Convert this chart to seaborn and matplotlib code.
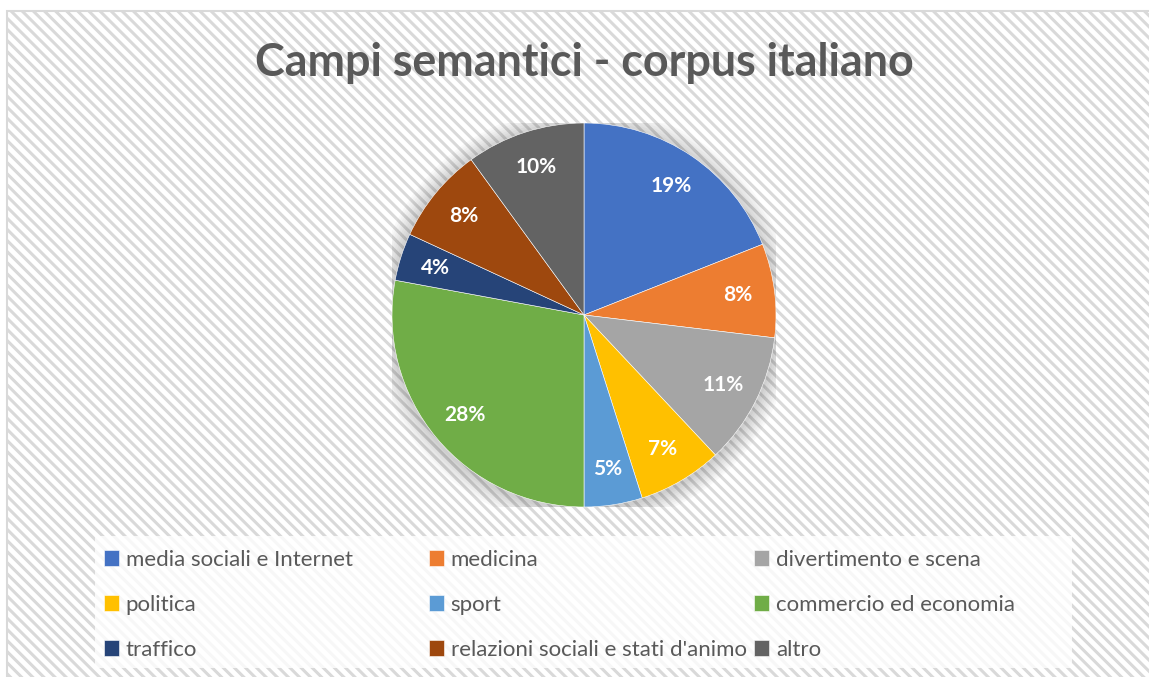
import matplotlib
matplotlib.use("Agg")
import matplotlib.pyplot as plt
import matplotlib.patches as mpatches
import seaborn as sns

sns.set_theme(style="white")
plt.rcParams['font.family'] = ['Lato', 'DejaVu Sans']
plt.rcParams['hatch.linewidth'] = 2.2
plt.rcParams['hatch.color'] = '#f7f7f7'

categories = ["media sociali e Internet", "medicina", "divertimento e scena",
              "politica", "sport", "commercio ed economia",
              "traffico", "relazioni sociali e stati d'animo", "altro"]
shares = [19.0, 7.9, 11.1, 7.1, 4.9, 27.9, 4.0, 8.1, 10.0]
colors = ["#4472C4", "#ED7D31", "#A5A5A5", "#FFC000", "#5B9BD5",
          "#70AD47", "#264478", "#9E480E", "#636363"]
title = "Campi semantici - corpus italiano"

W, H = 1149, 677
fig = plt.figure(figsize=(W / 100, H / 100), dpi=100)
fig.patch.set_facecolor("white")

# background frame with diagonal hatch
bg = fig.add_axes([0, 0, 1, 1])
bg.set_xlim(0, W)
bg.set_ylim(H, 0)
bg.axis("off")
bg.add_patch(mpatches.Rectangle((7, 11), W + 20, H + 20, facecolor="white",
                                edgecolor="#d9d9d9", lw=1.5, hatch="\\" * 3))
bg.add_patch(mpatches.Rectangle((95, 536), 977, 132, facecolor="white",
                                edgecolor="none", alpha=0.8))
bg.text(584, 63, title, ha="center", va="center", fontsize=32.3,
        fontweight="bold", color="#595959")

# pie
ax = fig.add_axes([392 / W, 170 / H, 384 / W, 384 / H])
for i in range(8):
    ax.add_patch(mpatches.Circle((0, -0.01), 1.0 + 0.012 * (i + 1),
                                 color="black", alpha=0.022, lw=0, zorder=0))
wedges, texts, autotexts = ax.pie(
    shares, colors=colors, startangle=90, counterclock=False,
    autopct="%1.0f%%", pctdistance=0.81,
    wedgeprops=dict(edgecolor="white", linewidth=0.4),
    textprops=dict(color="white", fontsize=15, fontweight="bold"))
ax.set_xlim(-1, 1)
ax.set_ylim(-1, 1)
ax.set_aspect("equal")
ax.axis("off")

# legend: three columns
col_x = [88 / W, 413 / W, 738 / W]
for c in range(3):
    idx = [r * 3 + c for r in range(3)]
    fig.legend([wedges[i] for i in idx], [categories[i] for i in idx],
               loc="upper left", bbox_to_anchor=(col_x[c], 1 - 534 / H),
               frameon=False, fontsize=16, labelcolor="#595959",
               handlelength=0.7, handleheight=0.7, handletextpad=0.3,
               labelspacing=1.13, borderpad=0.2)

fig.savefig("out.png", dpi=100)
